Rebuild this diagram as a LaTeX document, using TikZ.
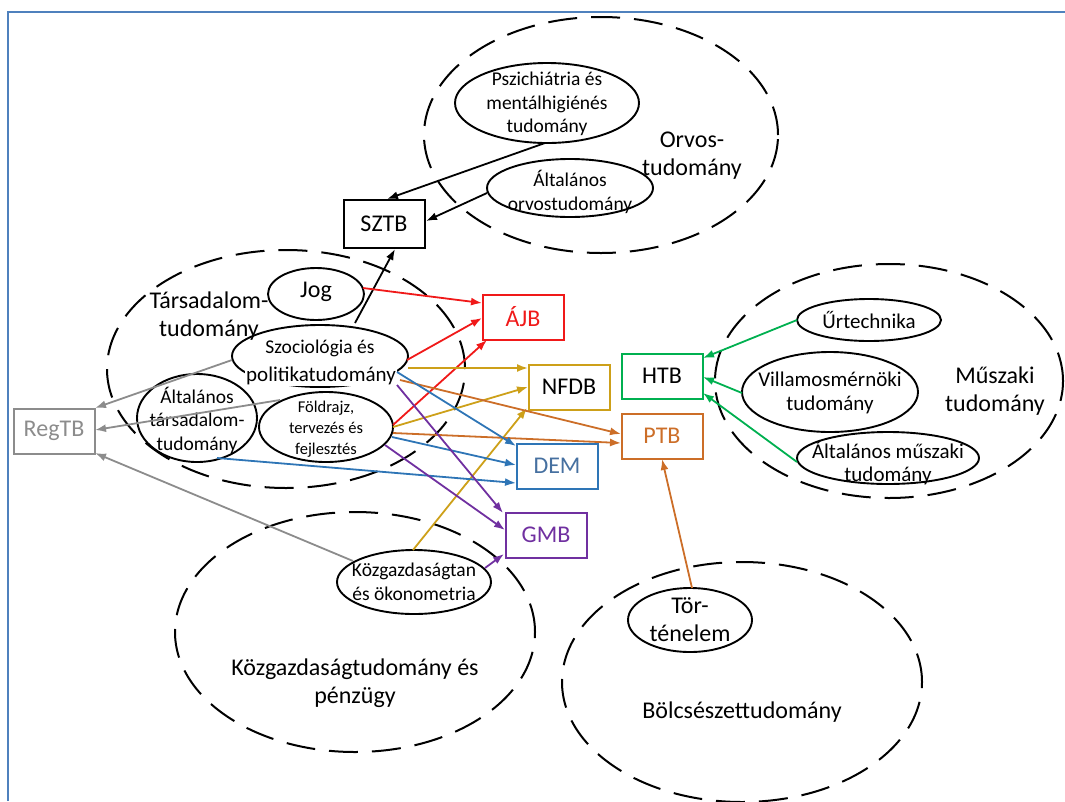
\documentclass[tikz,border=0pt]{standalone}
\usepackage{fontspec}
\setmainfont{Carlito}
\usetikzlibrary{arrows.meta,shapes.geometric}
\definecolor{framecol}{RGB}{79,129,189}
\definecolor{cred}{RGB}{240,25,25}
\definecolor{cgold}{RGB}{205,160,25}
\definecolor{corange}{RGB}{204,110,40}
\definecolor{cblue}{RGB}{46,117,182}
\definecolor{cbluetext}{RGB}{70,112,160}
\definecolor{cpurple}{RGB}{112,48,160}
\definecolor{cgreen}{RGB}{0,176,80}
\definecolor{cgray}{RGB}{140,140,140}
\begin{document}
\begin{tikzpicture}[x=1pt,y=-1pt,
  bigell/.style={ellipse, draw, line width=2pt, dash pattern=on 29pt off 14pt, inner sep=0},
  sell/.style={ellipse, draw, line width=1.9pt, inner sep=0},
  box/.style={rectangle, draw, line width=2pt, minimum width=81pt, minimum height=45pt, inner sep=0, font=\fontsize{24}{28}\selectfont},
  lbl/.style={align=center, inner sep=0, font=\fontsize{24}{28}\selectfont},
  stxt/.style={align=center, inner sep=0, font=\fontsize{19.5}{23.5}\selectfont},
  ftxt/.style={align=center, inner sep=0, font=\fontsize{16.5}{21}\selectfont},
  rtxt/.style={align=center, inner sep=0, font=\fontsize{21}{23.5}\selectfont},
  arr/.style={line width=1.8pt, -{Latex[length=11pt,width=8pt]}},
]
\useasboundingbox (0,0) rectangle (1065,801);
\draw[line width=2.5pt, framecol] (8,801) -- (8,12) -- (1065,12);

% big dashed ellipses
\node[bigell, minimum width=354pt, minimum height=236pt] (orv) at (601,135) {};
\node[bigell, minimum width=358pt, minimum height=238pt] (tars) at (286,369) {};
\node[bigell, minimum width=348pt, minimum height=234pt] (musz) at (889,381) {};
\node[bigell, minimum width=360pt, minimum height=240pt] (kozg) at (355,632) {};
\node[bigell, minimum width=360pt, minimum height=240pt] (bolcs) at (742,682) {};

% small ellipses
\node[sell, minimum width=184pt, minimum height=80pt] (psz) at (547,103) {};
\node[sell, minimum width=166pt, minimum height=58pt] (altorv) at (570,188) {};
\node[sell, minimum width=96pt, minimum height=52pt] (jog) at (316,294) {};
\node[sell, minimum width=176pt, minimum height=62pt] (szoc) at (320,356) {};
\node[sell, minimum width=120pt, minimum height=88pt] (alttars) at (197,418) {};
\node[sell, minimum width=134pt, minimum height=70pt] (fold) at (326,427) {};
\node[sell, minimum width=154pt, minimum height=64pt] (kozgl) at (414,582) {};
\node[sell, minimum width=124pt, minimum height=64pt] (tort) at (690,620) {};
\node[sell, minimum width=144pt, minimum height=42pt] (urt) at (869,320) {};
\node[sell, minimum width=176pt, minimum height=80pt] (vill) at (830,392) {};
\node[sell, minimum width=182pt, minimum height=52pt] (altmu) at (888,458) {};

% boxes
\node[box, minimum height=48pt] (sztb) at (384,224) {SZTB};
\node[box, draw=cgray, text=cgray] (regtb) at (54,431) {RegTB};
\node[box, draw=cred, text=cred] (ajb) at (523,317) {ÁJB};
\node[box, draw=cgold] (nfdb) at (569,387) {NFDB};
\node[box, draw=cgreen] (htb) at (662,376) {HTB};
\node[box, draw=corange, text=corange] (ptb) at (662,436) {PTB};
\node[box, draw=cblue, text=cbluetext] (dem) at (557,466) {DEM};
\node[box, draw=cpurple, text=cpurple] (gmb) at (546,535) {GMB};

% texts
\node[lbl] (orvt) at (692,156) {Orvos-\\tudomány};
\node[lbl] (tarst) at (209,316) {Társadalom-\\tudomány};
\node[lbl] (muszt) at (995,391) {Műszaki\\tudomány};
\node[lbl] (kozgt) at (355,683) {Közgazdaságtudomány és\\pénzügy};
\node[lbl] (bolcst) at (742,712) {Bölcsészettudomány};
\node[stxt] (pszt) at (547,104) {Pszichiátria és\\mentálhigiénés\\tudomány};
\node[stxt] (altorvt) at (570,192) {Általános\\orvostudomány};
\node[lbl] (jogt) at (316,292) {Jog};
\node[stxt] (szoct) at (320,348) {Szociológia és};
\node[fill=white, inner sep=1pt, font=\fontsize{21}{24}\selectfont] (szoct2) at (321,376) {politikatudomány};
\node[stxt] (alttarst) at (197,420) {Általános\\társadalom-\\tudomány};
\node[ftxt] (foldt) at (326,429) {Földrajz,\\tervezés és\\fejlesztés};
\node[stxt] (kozglt) at (414,582) {Közgazdaságtan\\és ökonometria};
\node[lbl] (tortt) at (690,620) {Tör-\\ténelem};
\node[rtxt] (urtt) at (869,320) {Űrtechnika};
\node[rtxt] (villt) at (830,393) {Villamosmérnöki\\tudomány};
\node[rtxt] (altmut) at (888,463) {Általános műszaki\\tudomány};

% black arrows
\draw[arr] ([shift={(-2,40)}]psz.center) -- ([shift={(3,-25)}]sztb.center);
\draw[arr] ([shift={(-83,5)}]altorv.center) -- ([shift={(42,-3)}]sztb.center);
\draw[arr] ([shift={(35,-33)}]szoc.center) -- ([shift={(11,25)}]sztb.center);
% red
\draw[arr, cred] ([shift={(47,-6)}]jog.center) -- ([shift={(-41,-14)}]ajb.center);
\draw[arr, cred] ([shift={(87,4)}]szoc.center) -- ([shift={(-41,1)}]ajb.center);
\draw[arr, cred] ([shift={(67,-2)}]fold.center) -- ([shift={(-36,23)}]ajb.center);
% gold
\draw[arr, cgold] ([shift={(88,12)}]szoc.center) -- ([shift={(-41,-19)}]nfdb.center);
\draw[arr, cgold] ([shift={(67,0)}]fold.center) -- ([shift={(-41,0)}]nfdb.center);
\draw[arr, cgold] ([shift={(-1,-32)}]kozgl.center) -- ([shift={(-42,21)}]nfdb.center);
% orange
\draw[arr, corange] ([shift={(80,24)}]szoc.center) -- ([shift={(-41,-2)}]ptb.center);
\draw[arr, corange] ([shift={(67,6)}]fold.center) -- ([shift={(-41,7)}]ptb.center);
\draw[arr, corange] ([shift={(2,-32)}]tort.center) -- ([shift={(0,23)}]ptb.center);
% blue
\draw[arr, cblue] ([shift={(77,16)}]szoc.center) -- ([shift={(-41,-20)}]dem.center);
\draw[arr, cblue] ([shift={(66,10)}]fold.center) -- ([shift={(-41,-1)}]dem.center);
\draw[arr, cblue] ([shift={(20,40)}]alttars.center) -- ([shift={(-41,17)}]dem.center);
% purple
\draw[arr, cpurple] ([shift={(77,29)}]szoc.center) -- ([shift={(-43,-22)}]gmb.center);
\draw[arr, cpurple] ([shift={(59,18)}]fold.center) -- ([shift={(-41,-5)}]gmb.center);
\draw[arr, cpurple] ([shift={(71,-14)}]kozgl.center) -- ([shift={(-42,19)}]gmb.center);
% green
\draw[arr, cgreen] ([shift={(-72,0)}]urt.center) -- ([shift={(41,-18)}]htb.center);
\draw[arr, cgreen] ([shift={(-88,1)}]vill.center) -- ([shift={(41,1)}]htb.center);
\draw[arr, cgreen] ([shift={(-91,4)}]altmu.center) -- ([shift={(41,17)}]htb.center);
% gray
\draw[arr, cgray] ([shift={(-88,4)}]szoc.center) -- ([shift={(41,-23)}]regtb.center);
\draw[arr, cgray] ([shift={(-46,-27)}]fold.center) -- ([shift={(41,-1)}]regtb.center);
\draw[arr, cgray] ([shift={(-61,-21)}]kozgl.center) -- ([shift={(41,22)}]regtb.center);
\end{tikzpicture}
\end{document}
